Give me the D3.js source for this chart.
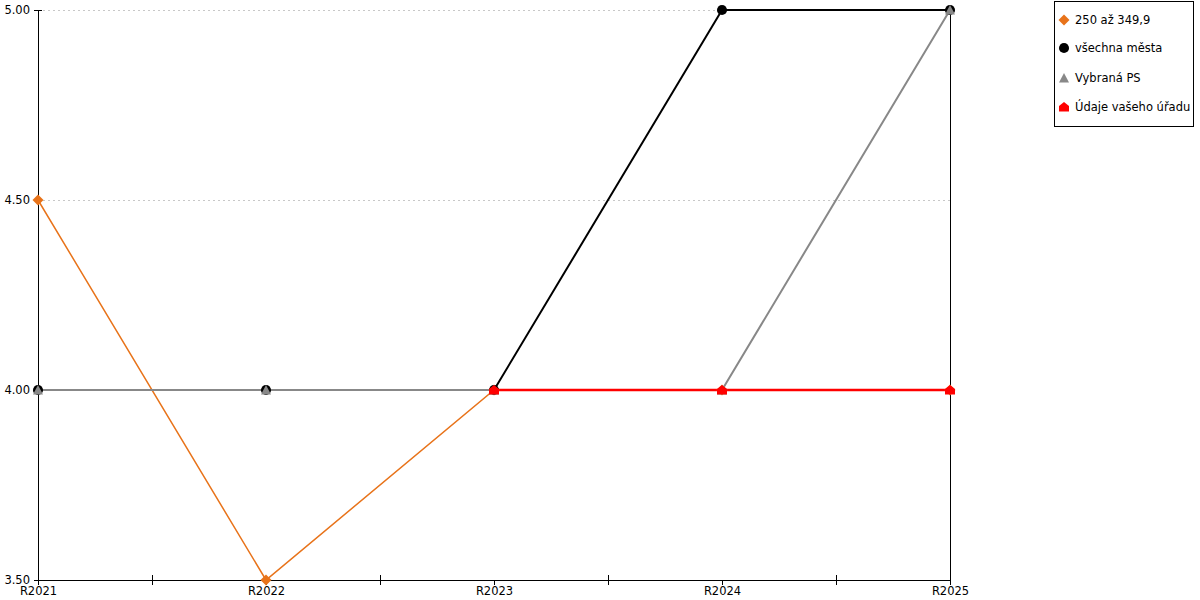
<!DOCTYPE html>
<html><head><meta charset="utf-8">
<script src="https://cdn.jsdelivr.net/npm/d3@7"></script>
<style>body{margin:0;background:#fff}svg{display:block}text{font-family:"DejaVu Sans",Verdana,sans-serif;font-size:11.5px;fill:#000}</style>
</head><body><svg id="c" width="1200" height="600"></svg>
<script>
const categories = ["R2021","R2022","R2023","R2024","R2025"];
const yTicks = [3.5, 4.0, 4.5, 5.0];
const seriesNames = ["250 až 349,9","všechna města","Vybraná PS","Údaje vašeho úřadu"];
const seriesOrange = [4.5, 3.5, 4.0, 4.0, 4.0];
const seriesBlack = [4.0, 4.0, 4.0, 5.0, 5.0];
const seriesGray = [4.0, 4.0, 4.0, 4.0, 5.0];
const seriesRed = [null, null, 4.0, 4.0, 4.0];

const svg = d3.select("#c");
const m = {l:38, r:950, t:10, b:580};
const x = d3.scalePoint().domain(categories).range([m.l, m.r]);
const y = d3.scaleLinear().domain([3.5, 5.0]).range([m.b, m.t]);

// grid
svg.append("g").selectAll("line").data(yTicks.filter(d=>d>3.5)).join("line")
  .attr("x1", m.l).attr("x2", m.r).attr("y1", d=>y(d)+0.5).attr("y2", d=>y(d)+0.5)
  .attr("stroke", "#c8c8c8").attr("stroke-dasharray", "2,3");

// y axis
const ya = svg.append("g").attr("transform", `translate(${m.l},0)`)
  .call(d3.axisLeft(y).tickValues(yTicks).tickFormat(d3.format(".2f")).tickSize(4).tickSizeOuter(0).tickPadding(4));
ya.select(".domain").attr("stroke", "#000");
ya.selectAll(".tick line").attr("stroke","#000").attr("x2", 4).attr("x1",-4);
ya.selectAll("text").style("font-size","11.5px").attr("font-family", null);
// right border
svg.append("line").attr("x1", m.r+0.5).attr("x2", m.r+0.5).attr("y1", m.t).attr("y2", m.b)
  .attr("stroke", "#000");

// x axis
const xa = svg.append("g").attr("transform", `translate(0,${m.b})`)
  .call(d3.axisBottom(x).tickSize(5).tickPadding(2));
xa.select(".domain").attr("d", `M${m.l},0.5H${m.r+1}`).attr("stroke","#000");
xa.selectAll("text").style("font-size","11.5px").attr("font-family", null);
// minor ticks between categories
const mids = d3.pairs(categories).map(([a,b]) => (x(a)+x(b))/2);
xa.append("g").selectAll("line").data(mids).join("line")
  .attr("x1", d=>Math.round(d)+0.5).attr("x2", d=>Math.round(d)+0.5).attr("y1", -5).attr("y2", 5).attr("stroke","#000");

const diamond = "M0,-5.5L5.5,0L0,5.5L-5.5,0Z";
const house = "M0,-5L5,-1V4.5H-5V-1Z";
const tri = "M0,-5L5,4.5H-5Z";
const series = [
  {name: seriesNames[0], vals: seriesOrange, color: "#e8731a", w: 1.5, path: diamond},
  {name: seriesNames[1], vals: seriesBlack, color: "#000000", w: 2, path: d3.symbol(d3.symbolCircle, 80)()},
  {name: seriesNames[2], vals: seriesGray, color: "#888888", w: 2, path: tri},
  {name: seriesNames[3], vals: seriesRed, color: "#ff0000", w: 2.5, path: house},
];

const line = d3.line().defined(d=>d.v!=null).x(d=>x(d.c)).y(d=>y(d.v));
series.forEach(s => {
  const pts = categories.map((c,i)=>({c, v:s.vals[i]}));
  svg.append("path").datum(pts).attr("d", line).attr("fill","none")
    .attr("stroke", s.color).attr("stroke-width", s.w);
});
series.forEach(s => {
  const pts = categories.map((c,i)=>({c, v:s.vals[i]})).filter(d=>d.v!=null);
  svg.append("g").selectAll("path").data(pts).join("path")
    .attr("transform", d=>`translate(${x(d.c)},${y(d.v)})`)
    .attr("d", s.path).attr("fill", s.color);
});

// legend
const lg = svg.append("g");
lg.append("rect").attr("x", 1054.5).attr("y", 1.5).attr("width", 139).attr("height", 125)
  .attr("fill","#fff").attr("stroke","#000");
const ly = [20, 48, 78, 107];
series.forEach((s,i) => {
  lg.append("path").attr("transform", `translate(1064,${ly[i]})`).attr("d", s.path).attr("fill", s.color);
  lg.append("text").attr("x", 1075).attr("y", ly[i]).attr("dy", "0.35em").text(s.name);
});
</script></body></html>
